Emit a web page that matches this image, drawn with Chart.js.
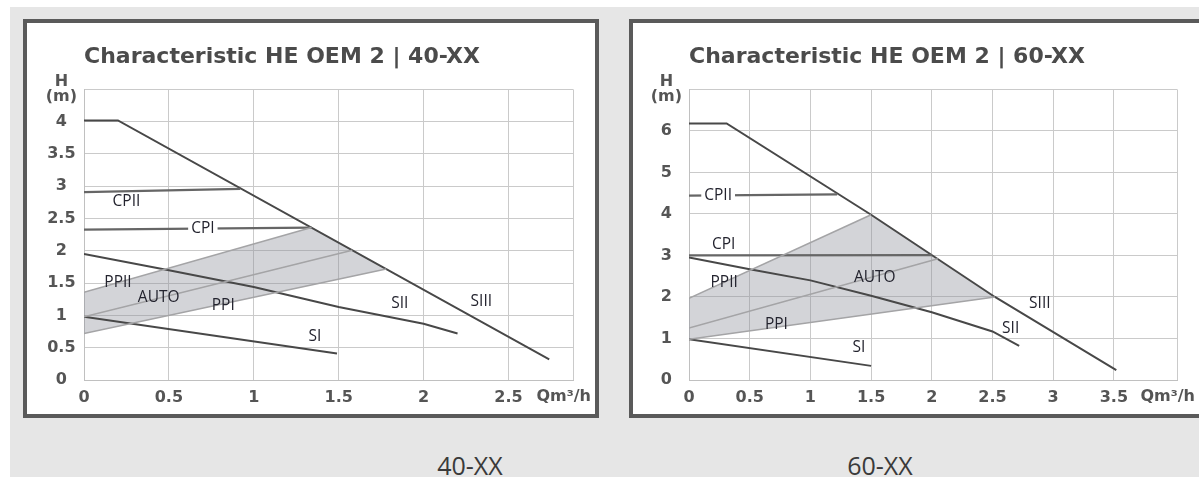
<!DOCTYPE html>
<html>
<head>
<meta charset="utf-8">
<script src="https://cdn.jsdelivr.net/npm/chart.js@4.4.0/dist/chart.umd.min.js"></script>
<style>
  body { margin: 0; background: #fff; width: 1199px; height: 477px; overflow: hidden; position: relative; }
  .bg { position: absolute; left: 10px; top: 7px; width: 1200px; height: 480px; background: #e6e6e6; }
  .box { position: absolute; top: 19px; width: 568px; height: 391px; border: 4px solid #5a5a5a; background: #fff; }
  .box canvas { display: block; }
  .caption { position: absolute; top: 450px; width: 140px; text-align: center; font: 25px "Open Sans", sans-serif; line-height: 30px; color: #3a3a3a; }
</style>
</head>
<body>
<div class="bg"></div>
<div class="box" style="left:23px"><canvas id="chart40" width="568" height="391"></canvas></div>
<div class="box" style="left:629px"><canvas id="chart60" width="568" height="391"></canvas></div>
<div class="caption" style="left:400px">40-XX</div>
<div class="caption" style="left:810px">60-XX</div>
<script>
const yUnitLabel = ['H', '(m)'];
const xUnitLabel = 'Qm³/h';

// 40-XX
const x40Ticks = [0, 0.5, 1, 1.5, 2, 2.5];
const x40Labels = ['0', '0.5', '1', '1.5', '2', '2.5'];
const x40Max = 2.88;
const y40Ticks = [0, 0.5, 1, 1.5, 2, 2.5, 3, 3.5, 4];
const y40Labels = ['0', '0.5', '1', '1.5', '2', '2.5', '3', '3.5', '4'];
const y40Max = 4.5;
const siii40 = [[0, 4.02], [0.2, 4.02], [2.74, 0.32]];
const sii40 = [[0, 1.95], [0.5, 1.70], [1, 1.44], [1.5, 1.13], [2, 0.87], [2.2, 0.72]];
const si40 = [[0, 0.98], [1.49, 0.41]];
const cpii40 = [[0, 2.91], [0.92, 2.96]];
const cpi40 = [[0, 2.33], [1.34, 2.36]];
const ppii40 = [[0, 1.36], [1.34, 2.36]];
const auto40 = [[0, 0.98], [1.58, 2.01]];
const ppi40 = [[0, 0.72], [1.78, 1.72]];
const labels40 = [
    { text: 'CPII', x: 0.25, y: 2.77 },
    { text: 'CPI', x: 0.70, y: 2.34, bg: true },
    { text: 'PPII', x: 0.20, y: 1.51 },
    { text: 'AUTO', x: 0.44, y: 1.28 },
    { text: 'PPI', x: 0.82, y: 1.15 },
    { text: 'SI', x: 1.36, y: 0.68 },
    { text: 'SII', x: 1.86, y: 1.18 },
    { text: 'SIII', x: 2.34, y: 1.22 }
];

// 60-XX
const x60Ticks = [0, 0.5, 1, 1.5, 2, 2.5, 3, 3.5];
const x60Labels = ['0', '0.5', '1', '1.5', '2', '2.5', '3', '3.5'];
const x60Max = 4.02;
const y60Ticks = [0, 1, 2, 3, 4, 5, 6];
const y60Labels = ['0', '1', '2', '3', '4', '5', '6'];
const y60Max = 7;
const siii60 = [[0, 6.18], [0.31, 6.18], [1.5, 3.98], [2.52, 2.0], [3.52, 0.24]];
const sii60 = [[0, 2.95], [0.5, 2.67], [1, 2.40], [1.5, 2.03], [2, 1.63], [2.5, 1.17], [2.72, 0.82]];
const si60 = [[0, 0.98], [1.5, 0.34]];
const cpii60 = [[0, 4.44], [1.22, 4.47]];
const cpi60 = [[0, 3.0], [2.0, 3.01]];
const ppii60 = [[0, 1.97], [1.5, 3.98]];
const auto60 = [[0, 1.25], [2.05, 2.92]];
const ppi60 = [[0, 0.98], [2.52, 2.0]];
const labels60 = [
    { text: 'CPII', x: 0.24, y: 4.45, bg: true },
    { text: 'CPI', x: 0.285, y: 3.26 },
    { text: 'PPII', x: 0.29, y: 2.35 },
    { text: 'AUTO', x: 1.53, y: 2.46 },
    { text: 'PPI', x: 0.72, y: 1.33 },
    { text: 'SI', x: 1.40, y: 0.77 },
    { text: 'SII', x: 2.65, y: 1.23 },
    { text: 'SIII', x: 2.89, y: 1.84 }
];

const colors = {
    dark: '#484848',
    cp: '#666666',
    band: '#a4a4a6',
    fill: 'rgba(140,143,152,0.38)',
    grid: '#cacaca',
    tick: '#555555',
    title: '#4b4b4b',
    label: '#23232e'
};

Chart.defaults.font.family = 'DejaVu Sans';

const toXY = pts => pts.map(p => ({ x: p[0], y: p[1] }));

function line(data, color, width) {
    return { data: toXY(data), borderColor: color, borderWidth: width, pointRadius: 0, fill: false };
}

function labelPlugin(items) {
    return {
        id: 'curveLabels',
        afterDatasetsDraw(chart) {
            const { ctx, scales: { x, y } } = chart;
            ctx.save();
            ctx.font = '15.5px "Open Sans"';
            ctx.textAlign = 'center';
            ctx.textBaseline = 'middle';
            items.forEach(l => {
                const px = x.getPixelForValue(l.x);
                const py = y.getPixelForValue(l.y);
                if (l.bg) {
                    const w = ctx.measureText(l.text).width;
                    ctx.fillStyle = '#fff';
                    ctx.fillRect(px - w / 2 - 3, py - 7, w + 6, 14);
                }
                ctx.fillStyle = colors.label;
                ctx.fillText(l.text, px, py);
            });
            // unit of the x axis, next to the last tick label
            ctx.font = 'bold 16px "DejaVu Sans"';
            ctx.fillStyle = colors.tick;
            ctx.textAlign = 'right';
            ctx.fillText(xUnitLabel, x.right + 18, y.bottom + 17);
            ctx.restore();
        }
    };
}

function makeChart(id, c) {
    const bandTop = c.ppii.concat([c.ppi[c.ppi.length - 1]]);
    return new Chart(document.getElementById(id), {
        type: 'line',
        data: {
            datasets: [
                { data: toXY(bandTop), borderWidth: 0, pointRadius: 0, backgroundColor: colors.fill, fill: 1 },
                line(c.ppi, colors.band, 1.5),
                line(c.ppii, colors.band, 1.5),
                line(c.auto, colors.band, 1.5),
                line(c.cpii, colors.cp, 2.2),
                line(c.cpi, colors.cp, 2.2),
                line(c.si, colors.dark, 2),
                line(c.sii, colors.dark, 2),
                line(c.siii, colors.dark, 2)
            ]
        },
        options: {
            responsive: false,
            animation: false,
            devicePixelRatio: 1,
            layout: { padding: { right: c.padRight } },
            plugins: {
                legend: { display: false },
                tooltip: { enabled: false },
                filler: { drawTime: 'beforeDatasetsDraw' },
                title: {
                    display: true,
                    text: c.title,
                    align: 'start',
                    fullSize: false,
                    color: colors.title,
                    font: { size: 22, weight: 'bold', lineHeight: 1.2 },
                    padding: { top: 21, bottom: 19 }
                }
            },
            scales: {
                x: {
                    type: 'linear',
                    min: 0,
                    max: c.xMax,
                    afterBuildTicks: s => { s.ticks = c.xTicks.concat([c.xMax]).map(v => ({ value: v })); },
                    afterFit: s => { s.height = 34; },
                    grid: { color: colors.grid, drawTicks: false },
                    border: { color: '#c0c0c0' },
                    ticks: {
                        autoSkip: false,
                        maxRotation: 0,
                        padding: 8,
                        color: colors.tick,
                        font: { size: 16, weight: 'bold' },
                        callback: (v, i) => c.xLabels[i] ?? ''
                    }
                },
                y: {
                    type: 'linear',
                    min: 0,
                    max: c.yMax,
                    afterBuildTicks: s => { s.ticks = c.yTicks.concat([c.yMax]).map(v => ({ value: v })); },
                    afterFit: s => { s.width = c.axisWidth; },
                    grid: { color: colors.grid, drawTicks: false },
                    border: { color: '#c0c0c0' },
                    ticks: {
                        autoSkip: false,
                        crossAlign: 'center',
                        padding: 7,
                        color: colors.tick,
                        font: { size: 16, weight: 'bold', lineHeight: 0.95 },
                        callback: (v, i) => c.yLabels[i] ?? yUnitLabel
                    }
                }
            }
        },
        plugins: [labelPlugin(c.labels)]
    });
}

makeChart('chart40', {
    title: 'Characteristic HE OEM 2 | 40-XX',
    xTicks: x40Ticks, xLabels: x40Labels, xMax: x40Max,
    yTicks: y40Ticks, yLabels: y40Labels, yMax: y40Max,
    siii: siii40, sii: sii40, si: si40, cpii: cpii40, cpi: cpi40,
    ppii: ppii40, auto: auto40, ppi: ppi40, labels: labels40,
    axisWidth: 57, padRight: 22
});

makeChart('chart60', {
    title: 'Characteristic HE OEM 2 | 60-XX',
    xTicks: x60Ticks, xLabels: x60Labels, xMax: x60Max,
    yTicks: y60Ticks, yLabels: y60Labels, yMax: y60Max,
    siii: siii60, sii: sii60, si: si60, cpii: cpii60, cpi: cpi60,
    ppii: ppii60, auto: auto60, ppi: ppi60, labels: labels60,
    axisWidth: 56, padRight: 24
});
</script>
</body>
</html>
